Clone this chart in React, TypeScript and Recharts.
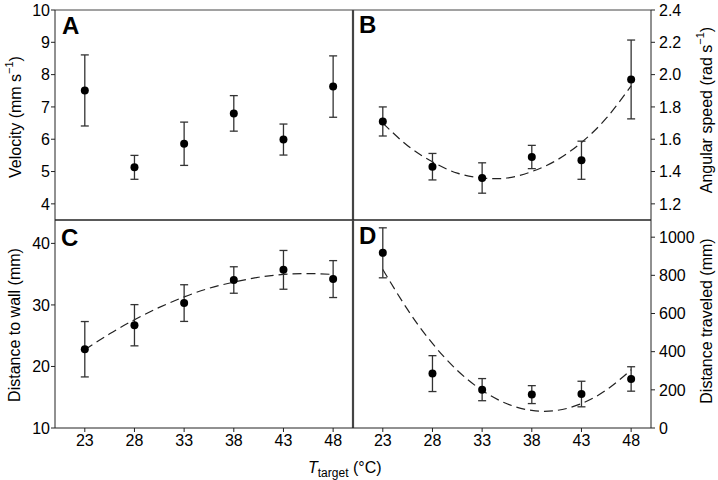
import { ComposedChart, Scatter, Line, XAxis, YAxis, ErrorBar, Label, ReferenceLine } from "recharts"

// target temperatures (°C)
const temps = [23, 28, 33, 38, 43, 48]

// A: velocity (mm s-1)
const velocity = [7.51, 5.13, 5.86, 6.8, 5.99, 7.63]
const velocityErr = [1.1, 0.37, 0.67, 0.55, 0.48, 0.95]

// B: angular speed (rad s-1)
const angular = [1.71, 1.43, 1.36, 1.49, 1.47, 1.97]
const angularErr = [0.09, 0.082, 0.094, 0.072, 0.118, 0.244]

// C: distance to wall (mm)
const wallDist = [22.8, 26.7, 30.3, 34.05, 35.7, 34.2]
const wallErr = [4.5, 3.35, 2.98, 2.15, 3.15, 3.0]

// D: distance traveled (mm)
const traveled = [918, 285, 201, 175, 178, 257]
const traveledErr = [131, 94, 58, 47, 67, 64]

// dashed fitted curves
const fitTemps = [23, 25.5, 28, 30.5, 33, 35.5, 38, 40.5, 43, 45.5, 48]
const angularFit = [1.7, 1.56, 1.46, 1.39, 1.36, 1.36, 1.4, 1.47, 1.58, 1.73, 1.93]
const wallFit = [22.7, 25.3, 27.6, 29.6, 31.3, 32.7, 33.7, 34.5, 34.95, 35.1, 34.95]
const traveledFit = [831, 620, 443, 302, 197, 127, 92, 92, 128, 199, 305]

const velocityTicks = [4, 5, 6, 7, 8, 9, 10]
const angularTicks = [1.2, 1.4, 1.6, 1.8, 2.0, 2.2, 2.4]
const wallTicks = [10, 20, 30, 40]
const traveledTicks = [0, 200, 400, 600, 800, 1000]

const FONT = "'Liberation Sans', Arial, Helvetica, sans-serif"
const AXIS = "#222"

const toPoints = (vals: number[], errs: number[]) => temps.map((t, i) => ({ t, v: vals[i], err: errs[i] }))
const toCurve = (vals: number[]) => fitTemps.map((t, i) => ({ t, v: vals[i] }))

const tickStyle = { fill: "#000", fontSize: 16, fontFamily: FONT }

const Dot = (props: any) => <circle cx={props.cx} cy={props.cy} r={4} fill="#000" />

const sideTitle = (cx: number, cy: number, main: string, sup?: string, tail?: string) => () => (
  <text
    x={cx}
    y={cy}
    transform={`rotate(-90 ${cx} ${cy})`}
    textAnchor="middle"
    dominantBaseline="central"
    fontSize={16}
    fontFamily={FONT}
    fill="#000"
  >
    {main}
    {sup && (
      <tspan dy={-6} fontSize={11}>
        {sup}
      </tspan>
    )}
    {tail && <tspan dy={sup ? 6 : 0}>{tail}</tspan>}
  </text>
)

const xTitle = () => (
  <text x={308} y={273} fontSize={16} fontFamily={FONT} fill="#000">
    <tspan fontStyle="italic">T</tspan>
    <tspan fontSize={12} dy={4}>
      target
    </tspan>
    <tspan dy={-4}> (°C)</tspan>
  </text>
)

type PanelProps = {
  left: number
  top: number
  width: number
  height: number
  margin: { top: number; right: number; bottom: number; left: number }
  side: "left" | "right"
  bottom: boolean
  domain: [number, number]
  ticks: number[]
  fmt?: (v: number) => string
  points: any[]
  curve?: any[]
  title: any
  divider: boolean
  topBorder: boolean
  letter: string
  letterPos: { left: number; top: number }
}

function Panel(p: PanelProps) {
  return (
    <div style={{ position: "absolute", left: p.left, top: p.top }}>
      <ComposedChart width={p.width} height={p.height} margin={p.margin}>
        <XAxis
          dataKey="t"
          type="number"
          domain={[20, 50]}
          ticks={temps}
          allowDataOverflow
          stroke={AXIS}
          tickSize={4}
          tickMargin={3}
          tick={p.bottom ? tickStyle : false}
          mirror={!p.bottom}
          height={p.bottom ? 52 : 1}
        >
          {p.bottom && p.side === "left" && <Label content={xTitle} />}
        </XAxis>
        <YAxis
          dataKey="v"
          orientation={p.side}
          type="number"
          domain={p.domain}
          ticks={p.ticks}
          allowDataOverflow
          tickFormatter={p.fmt}
          width={p.side === "left" ? 55 : 67}
          tickSize={4}
          tickMargin={p.side === "left" ? 1 : 4}
          tick={tickStyle}
          stroke={AXIS}
        >
          <Label content={p.title} />
        </YAxis>
        {p.topBorder && <ReferenceLine y={p.domain[1]} stroke="#444" />}
        {p.topBorder && <ReferenceLine y={p.domain[0]} stroke={AXIS} />}
        {p.divider && <ReferenceLine x={50} stroke="#444" strokeWidth={2.2} />}
        {p.curve && (
          <Line
            data={p.curve}
            dataKey="v"
            type="natural"
            stroke="#222"
            strokeWidth={1.2}
            strokeDasharray="9 5"
            dot={false}
            activeDot={false}
            isAnimationActive={false}
          />
        )}
        <Scatter data={p.points} dataKey="v" shape={Dot} isAnimationActive={false}>
          <ErrorBar dataKey="err" direction="y" width={4} stroke="#333" strokeWidth={1.3} />
        </Scatter>
      </ComposedChart>
      <div
        style={{
          position: "absolute",
          left: p.letterPos.left,
          top: p.letterPos.top,
          fontFamily: FONT,
          fontWeight: "bold",
          fontSize: 24,
          lineHeight: "24px",
        }}
      >
        {p.letter}
      </div>
    </div>
  )
}

export default function App() {
  return (
    <div style={{ position: "absolute", left: 0, top: 0, width: 718, height: 480, background: "#fff" }}>
      <Panel
        left={0}
        top={0}
        width={420}
        height={240}
        margin={{ top: 10, right: 67, bottom: 20, left: 0 }}
        side="left"
        bottom={false}
        domain={[3.5, 10]}
        ticks={velocityTicks}
        points={toPoints(velocity, velocityErr)}
        title={sideTitle(15, 117, "Velocity (mm s", "−1", ")")}
        divider
        topBorder
        letter="A"
        letterPos={{ left: 62, top: 14 }}
      />
      <Panel
        left={300}
        top={0}
        width={418}
        height={240}
        margin={{ top: 10, right: 0, bottom: 20, left: 53 }}
        side="right"
        bottom={false}
        domain={[1.1, 2.4]}
        ticks={angularTicks}
        fmt={(v) => v.toFixed(1)}
        points={toPoints(angular, angularErr)}
        curve={toCurve(angularFit)}
        title={sideTitle(406, 110, "Angular speed (rad s", "−1", ")")}
        divider={false}
        topBorder
        letter="B"
        letterPos={{ left: 59, top: 13 }}
      />
      <Panel
        left={0}
        top={200}
        width={420}
        height={280}
        margin={{ top: 20, right: 67, bottom: 0, left: 0 }}
        side="left"
        bottom
        domain={[10, 43.8]}
        ticks={wallTicks}
        points={toPoints(wallDist, wallErr)}
        curve={toCurve(wallFit)}
        title={sideTitle(14, 125, "Distance to wall (mm)")}
        divider
        topBorder={false}
        letter="C"
        letterPos={{ left: 61, top: 26 }}
      />
      <Panel
        left={300}
        top={200}
        width={418}
        height={280}
        margin={{ top: 20, right: 0, bottom: 0, left: 53 }}
        side="right"
        bottom
        domain={[0, 1090]}
        ticks={traveledTicks}
        points={toPoints(traveled, traveledErr)}
        curve={toCurve(traveledFit)}
        title={sideTitle(406, 121, "Distance traveled (mm)")}
        divider={false}
        topBorder={false}
        letter="D"
        letterPos={{ left: 59, top: 24 }}
      />
    </div>
  )
}
